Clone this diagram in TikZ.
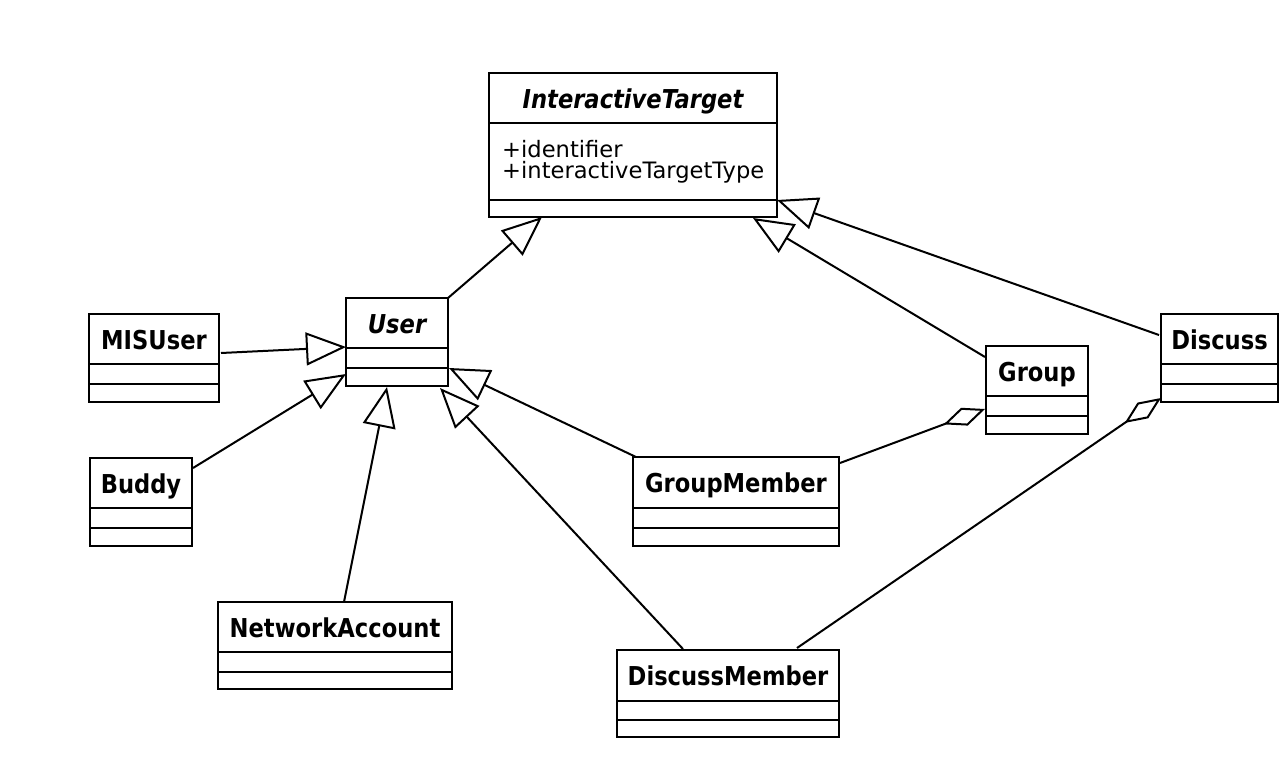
\documentclass[tikz,border=0pt]{standalone}
\usepackage{fontspec}
\setmainfont{DejaVu Sans}
\newfontfamily\tfont{DejaVu Sans}[FakeStretch=0.87]
\usetikzlibrary{arrows.meta,calc}

\tikzset{
  box/.style={draw, line width=2.2pt, inner sep=0pt, outer sep=0pt, anchor=north west},
  divider/.style={line width=2.2pt},
  ttl/.style={anchor=base, inner sep=0pt, font=\tfont\fontsize{26}{30}\selectfont\bfseries},
  attr/.style={anchor=base west, inner sep=0pt, font=\fontsize{22.6}{26}\selectfont},
  conn/.style={line width=2pt, line join=miter},
  gen/.style={conn, -{Triangle[open, length=40pt, width=33pt]}},
  agg/.style={conn, -{Diamond[open, length=44pt, width=19pt]}},
}

% name, L, T, R, B, d1, d2, title
\newcommand\umlclass[8]{%
  \node[box, minimum width={(#4-#2)*1pt}, minimum height={(#5-#3)*1pt}] (#1) at (#2,#3) {};
  \draw[divider] (#2,#6) -- (#4,#6);
  \draw[divider] (#2,#7) -- (#4,#7);
  \node[ttl] (#1-t) at ({(#2+#4)/2},{#3+35}) {#8};
}

\begin{document}
\begin{tikzpicture}[x=1pt, y=-1pt]
\useasboundingbox (0,0) rectangle (1288,764);

\umlclass{it}{489}{73}{777}{217}{123}{200}{\itshape InteractiveTarget}
\node[attr] (it-a1) at (502,157) {+identifier};
\node[attr] (it-a2) at (502,178) {+interactiveTargetType};

\umlclass{user}{346}{298}{448}{386}{348}{368}{\itshape User}
\umlclass{misuser}{89}{314}{219}{402}{364}{384}{MISUser}
\umlclass{buddy}{90}{458}{192}{546}{508}{528}{Buddy}
\umlclass{netacc}{218}{602}{452}{689}{652}{672}{NetworkAccount}
\umlclass{gmember}{633}{457}{839}{546}{508}{528}{GroupMember}
\umlclass{dmember}{617}{650}{839}{737}{701}{720}{DiscussMember}
\umlclass{group}{986}{346}{1088}{434}{396}{416}{Group}
\umlclass{discuss}{1161}{314}{1278}{402}{364}{384}{Discuss}

\draw[gen] (user.north east) -- ($(it.south west)+(53,0)$);
\draw[gen] ($(misuser.north east)+(2,39)$) -- ($(user.north west)+(0,49)$);
\draw[gen] ($(buddy.north east)+(1,10)$) -- ($(user.north west)+(0,76)$);
\draw[gen] ($(netacc.north west)+(126,0)$) -- ($(user.south west)+(41,1)$);
\draw[gen] ($(gmember.north west)+(3,0)$) -- ($(user.north east)+(1,70)$);
\draw[gen] ($(dmember.north west)+(66,-1)$) -- ($(user.south east)+(-8,2)$);
\draw[gen] ($(group.north west)+(-1,11)$) -- ($(it.south east)+(-24,1)$);
\draw[gen] ($(discuss.north west)+(-2,21)$) -- ($(it.south east)+(0,-17)$);
\draw[agg] ($(gmember.north east)+(1,6)$) -- ($(group.north west)+(-1,63)$);
\draw[agg] ($(dmember.north east)+(-42,-2)$) -- ($(discuss.south west)+(0,-4)$);
\end{tikzpicture}
\end{document}
